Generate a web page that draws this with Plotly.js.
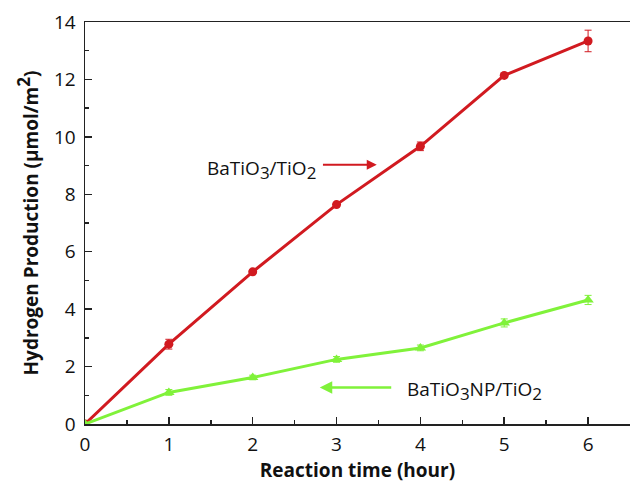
<!DOCTYPE html>
<html><head><meta charset="utf-8">
<script src="https://cdn.plot.ly/plotly-3.0.1.min.js"></script>
<style>html,body{margin:0;padding:0;background:#fff}</style>
</head><body><div id="c" style="width:630px;height:484px"></div>
<script>
const hours = [0, 1, 2, 3, 4, 5, 6];
const batio3Tio2 = [0, 2.78, 5.30, 7.64, 9.67, 12.14, 13.34];
const batio3Tio2Err = [0.03, 0.17, 0.06, 0.06, 0.15, 0.07, 0.375];
const npTio2 = [0, 1.10, 1.62, 2.25, 2.65, 3.52, 4.32];
const npTio2Err = [0.03, 0.10, 0.08, 0.10, 0.10, 0.14, 0.16];
const xTicks = [0, 1, 2, 3, 4, 5, 6];
const yTicks = [0, 2, 4, 6, 8, 10, 12, 14];

const red = '#d11a20', green = '#80f23a';
const font = '"Open Sans", "Noto Sans", sans-serif';
const big = s => '<span style="font-size:17px">' + s + '</span>';

const traces = [
  {x: hours, y: batio3Tio2, type: 'scatter', mode: 'lines+markers',
   line: {color: red, width: 3}, marker: {color: red, size: 9, symbol: 'circle'},
   error_y: {type: 'data', array: batio3Tio2Err, visible: true, color: red, thickness: 1, width: 3.5}},
  {x: hours, y: npTio2, type: 'scatter', mode: 'lines+markers',
   line: {color: green, width: 3}, marker: {color: green, size: 10, symbol: 'triangle-up'},
   error_y: {type: 'data', array: npTio2Err, visible: true, color: green, thickness: 1, width: 3.5}}
];

const axisCol = '#222';
const layout = {
  width: 630, height: 484,
  margin: {l: 85, r: 0, t: 22, b: 60},
  paper_bgcolor: '#fff', plot_bgcolor: '#fff',
  showlegend: false,
  font: {family: font, size: 19, color: '#111'},
  xaxis: {
    range: [0, 6.5], tickvals: xTicks, ticktext: xTicks.map(String),
    ticks: 'inside', ticklen: 7, tickwidth: 1.5, tickcolor: axisCol,
    minor: {dtick: 0.5, tick0: 0, ticks: 'inside', ticklen: 4, tickwidth: 1.5, tickcolor: axisCol},
    showline: true, linecolor: axisCol, linewidth: 1.5, mirror: true,
    showgrid: false, zeroline: false, ticklabelstandoff: 3,
    tickfont: {family: font, size: 19, color: '#111'},
    title: {text: 'Reaction time (hour)', font: {family: font, size: 19, color: '#111', weight: 'bold'}, standoff: 2}
  },
  yaxis: {
    range: [0, 14], tickvals: yTicks, ticktext: yTicks.map(String),
    ticks: 'inside', ticklen: 7, tickwidth: 1.5, tickcolor: axisCol,
    minor: {dtick: 1, tick0: 0, ticks: 'inside', ticklen: 4, tickwidth: 1.5, tickcolor: axisCol},
    showline: true, linecolor: axisCol, linewidth: 1.5, mirror: false,
    showgrid: false, zeroline: false, ticklabelstandoff: 4,
    tickfont: {family: font, size: 19, color: '#111'},
    title: {text: 'Hydrogen Production (μmol/m<sup>' + big('2') + '</sup>)', font: {family: font, size: 19, color: '#111', weight: 'bold'}, standoff: 10}
  },
  annotations: [
    {x: 2.11, y: 8.85, xref: 'x', yref: 'y', text: 'BaTiO<sub>' + big('3') + '</sub>/TiO<sub>' + big('2') + '</sub>', showarrow: false,
     font: {family: font, size: 19, color: '#111'}},
    {x: 3.48, y: 9.03, ax: 2.82, ay: 9.03, xref: 'x', yref: 'y', axref: 'x', ayref: 'y', text: '',
     showarrow: true, arrowhead: 2, arrowsize: 1, arrowwidth: 2, arrowcolor: red},
    {x: 4.64, y: 1.18, xref: 'x', yref: 'y', text: 'BaTiO<sub>' + big('3') + '</sub>NP/TiO<sub>' + big('2') + '</sub>', showarrow: false,
     font: {family: font, size: 19, color: '#111'}},
    {x: 2.80, y: 1.27, ax: 3.67, ay: 1.27, xref: 'x', yref: 'y', axref: 'x', ayref: 'y', text: '',
     showarrow: true, arrowhead: 2, arrowsize: 1, arrowwidth: 2.5, arrowcolor: green}
  ]
};
Plotly.newPlot('c', traces, layout, {displayModeBar: false, staticPlot: true});
</script></body></html>
